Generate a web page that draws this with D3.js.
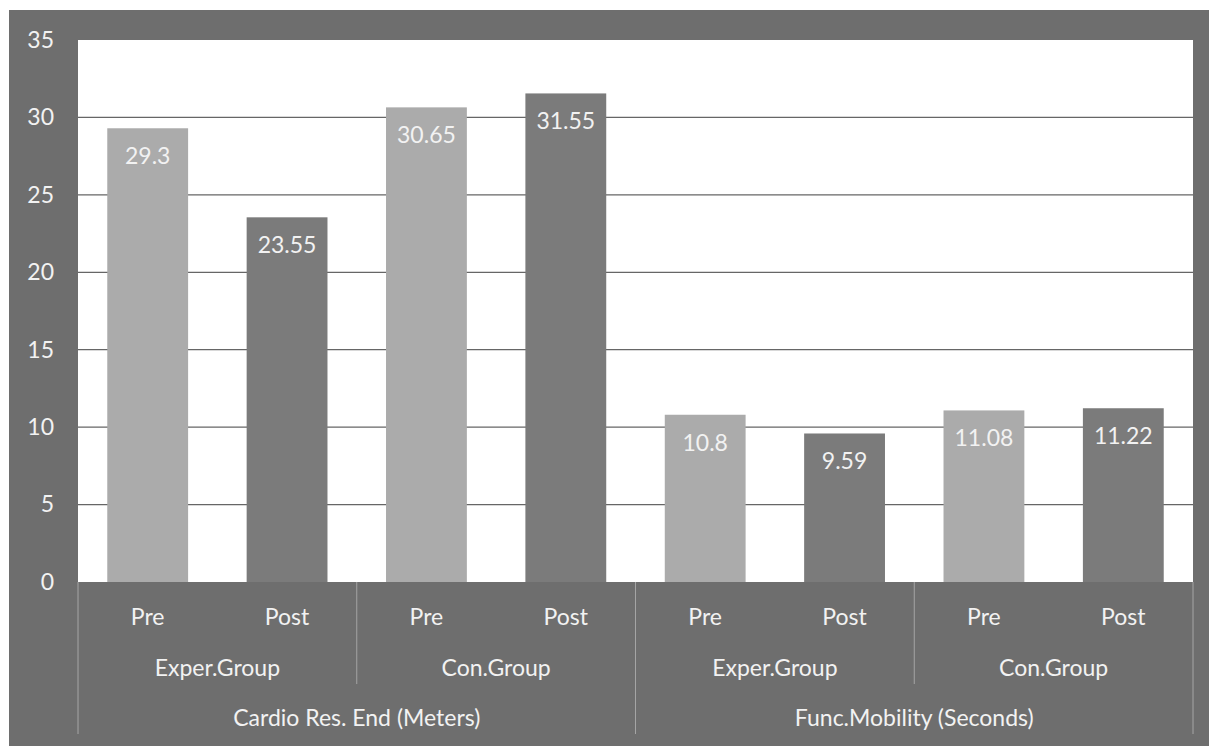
<!DOCTYPE html>
<html>
<head>
<meta charset="utf-8">
<script src="https://cdn.jsdelivr.net/npm/d3@7"></script>
<style>
  body { margin: 0; background: #fff; }
  text { font-family: Lato, "Open Sans", sans-serif; fill: #f2f2f2; }
</style>
</head>
<body>
<svg id="chart"></svg>
<script>
const categories = ["Cardio Res. End (Meters)", "Func.Mobility (Seconds)"];
const groups = ["Exper.Group", "Con.Group"];
const phases = ["Pre", "Post"];
const values = [29.3, 23.55, 30.65, 31.55, 10.8, 9.59, 11.08, 11.22];
const yTicks = [0, 5, 10, 15, 20, 25, 30, 35];

const width = 1209;
const height = 752;
const margin = { top: 40, right: 16, bottom: 170, left: 78 };
const frame = { x: 9, y: 10, w: 1200, h: 736 };
const fontSize = "23px";

const svg = d3.select("#chart")
    .attr("width", width)
    .attr("height", height);

// flat rows from the nested labels
const rows = [];
categories.forEach((c, ci) => {
    groups.forEach((g, gi) => {
        phases.forEach((p, pi) => {
            const i = ci * 4 + gi * 2 + pi;
            rows.push({ key: i, category: c, group: g, phase: p, value: values[i] });
        });
    });
});

const x = d3.scaleBand()
    .domain(rows.map(d => d.key))
    .range([margin.left, width - margin.right])
    .paddingInner(0.42)
    .paddingOuter(0.21);

const y = d3.scaleLinear()
    .domain([0, 35])
    .range([height - margin.bottom, margin.top]);

const color = d3.scaleOrdinal()
    .domain(phases)
    .range(["#ababab", "#7b7b7b"]);

const plotL = margin.left, plotR = width - margin.right;
const step = (plotR - plotL) / rows.length;

// Khung nền xám
svg.append("rect")
    .attr("x", frame.x).attr("y", frame.y)
    .attr("width", frame.w).attr("height", frame.h)
    .attr("fill", "#6e6e6e");

// plot area
svg.append("rect")
    .attr("x", plotL).attr("y", y(35))
    .attr("width", plotR - plotL).attr("height", y(0) - y(35))
    .attr("fill", "#ffffff");

// grid
svg.append("g")
    .selectAll("line")
    .data(yTicks.filter(t => t > 0 && t < 35))
    .join("line")
    .attr("x1", plotL).attr("x2", plotR)
    .attr("y1", d => y(d)).attr("y2", d => y(d))
    .attr("stroke", "#666")
    .attr("stroke-width", 1.2);

// y axis labels
const yAxis = svg.append("g")
    .attr("transform", `translate(${plotL}, 0)`)
    .call(d3.axisLeft(y).tickValues(yTicks).tickSize(0).tickPadding(24));
yAxis.select(".domain").remove();
yAxis.selectAll("text")
    .style("font-size", fontSize)
    .style("font-family", "Lato, sans-serif")
    .attr("fill", "#f2f2f2");

// bars
svg.append("g")
    .selectAll("rect")
    .data(rows)
    .join("rect")
    .attr("x", d => x(d.key))
    .attr("width", x.bandwidth())
    .attr("y", d => y(d.value))
    .attr("height", d => y(0) - y(d.value))
    .attr("fill", d => color(d.phase));

// value labels
svg.append("g")
    .selectAll("text")
    .data(rows)
    .join("text")
    .attr("x", d => x(d.key) + x.bandwidth() / 2)
    .attr("y", d => y(d.value) + 30)
    .attr("text-anchor", "middle")
    .attr("dominant-baseline", "middle")
    .style("font-size", fontSize)
    .text(d => d.value);

// Trục phân loại nhiều cấp
const axisTop = y(0);
const rowY = [axisTop + 37, axisTop + 88, axisTop + 138];

svg.append("g")
    .selectAll("text")
    .data(rows)
    .join("text")
    .attr("x", d => x(d.key) + x.bandwidth() / 2)
    .attr("y", rowY[0])
    .attr("text-anchor", "middle")
    .attr("dominant-baseline", "middle")
    .style("font-size", fontSize)
    .text(d => d.phase);

const groupRows = d3.range(categories.length * groups.length).map(i => ({
    i, label: groups[i % groups.length]
}));
svg.append("g")
    .selectAll("text")
    .data(groupRows)
    .join("text")
    .attr("x", d => plotL + step * (d.i * 2 + 1))
    .attr("y", rowY[1])
    .attr("text-anchor", "middle")
    .attr("dominant-baseline", "middle")
    .style("font-size", fontSize)
    .text(d => d.label);

svg.append("g")
    .selectAll("text")
    .data(categories)
    .join("text")
    .attr("x", (d, i) => plotL + step * (i * 4 + 2))
    .attr("y", rowY[2])
    .attr("text-anchor", "middle")
    .attr("dominant-baseline", "middle")
    .style("font-size", fontSize)
    .text(d => d);

// divider lines
const dividers = d3.range(0, rows.length + 1, 2).map(k => ({
    x: plotL + step * k,
    long: k % 4 === 0
}));
svg.append("g")
    .selectAll("line")
    .data(dividers)
    .join("line")
    .attr("x1", d => d.x).attr("x2", d => d.x)
    .attr("y1", axisTop)
    .attr("y2", d => d.long ? axisTop + 152 : axisTop + 102)
    .attr("stroke", "#a5a5a5")
    .attr("stroke-width", 1);
</script>
</body>
</html>
